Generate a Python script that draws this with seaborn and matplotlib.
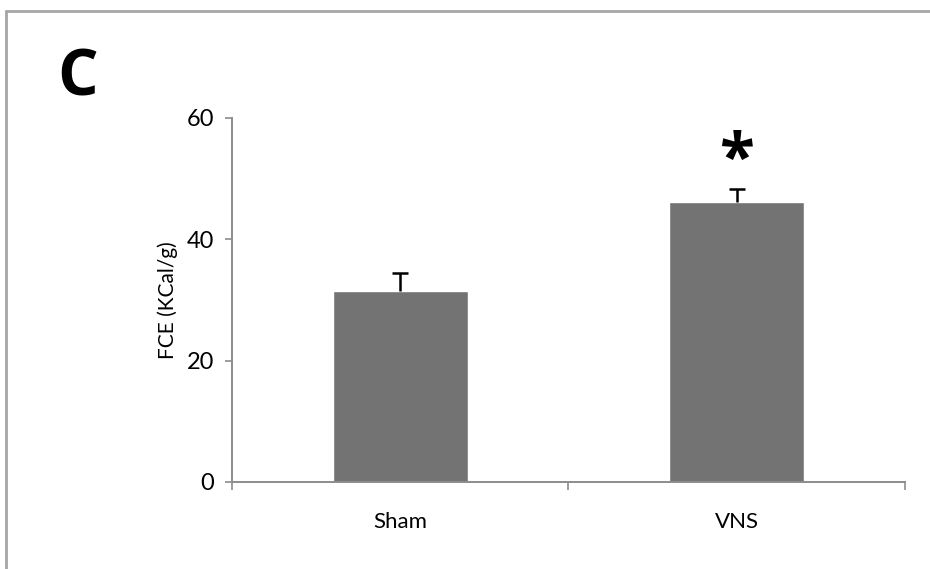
import matplotlib
matplotlib.use('Agg')
import matplotlib.pyplot as plt
from matplotlib.lines import Line2D
import seaborn as sns
import pandas as pd

groups = ['Sham', 'VNS']
fce = [31.5, 46.1]
sem = [3.0, 2.2]
sig = ['', '*']

sns.set_style('white')
plt.rcParams['font.family'] = ['Lato', 'DejaVu Sans']
plt.rcParams['text.color'] = 'black'
plt.rcParams['axes.labelcolor'] = 'black'
plt.rcParams['xtick.color'] = 'black'
plt.rcParams['ytick.color'] = 'black'

df = pd.DataFrame({'group': groups, 'fce': fce})

fig = plt.figure(figsize=(9.3, 5.69), dpi=100)
ax = fig.add_axes([0.2495, 0.153, 0.7235, 0.64])

sns.barplot(data=df, x='group', y='fce', color='#737373', saturation=1,
            width=0.4, errorbar=None, ax=ax)

# upper error bars only
xs = range(len(groups))
tops = [f + e for f, e in zip(fce, sem)]
ax.vlines(xs, fce, tops, color='black', lw=1.8, zorder=3)
ax.hlines(tops, [x - 0.024 for x in xs], [x + 0.024 for x in xs],
          color='black', lw=1.8, zorder=3)
for i, s in enumerate(sig):
    if s:
        ax.text(i, tops[i] + 4.3, s, ha='center', va='center', family='Open Sans',
                fontsize=46, fontweight='bold')

ax.set_ylim(0, 60)
ax.set_xlim(-0.5, 1.5)
ax.set_yticks([0, 20, 40, 60])
ax.set_xlabel('')
ax.set_ylabel('FCE (KCal/g)', fontsize=15, labelpad=6)

for s in ['top', 'right']:
    ax.spines[s].set_visible(False)
for s in ['left', 'bottom']:
    ax.spines[s].set_color('#8c8c8c')
    ax.spines[s].set_linewidth(1.4)

ax.tick_params(axis='y', which='major', left=True, direction='out', length=5,
               width=1.2, color='#8c8c8c', labelsize=17, pad=8)
ax.tick_params(axis='x', which='major', bottom=False, labelsize=16, pad=18)
ax.set_xticks([-0.5, 0.5, 1.5], minor=True)
ax.tick_params(axis='x', which='minor', bottom=True, direction='out', length=6,
               width=1.2, color='#8c8c8c')

# frame around the panel (top and left edges visible)
fig.add_artist(Line2D([0.006, 1.0], [0.981, 0.981], transform=fig.transFigure,
                      color='#a6a6a6', lw=2))
fig.add_artist(Line2D([0.006, 0.006], [0.0, 0.981], transform=fig.transFigure,
                      color='#a6a6a6', lw=2))

fig.text(0.084, 0.861, 'C', fontsize=46, fontweight='bold', family='Open Sans',
         ha='center', va='center')

fig.savefig('out.png', dpi=100)
